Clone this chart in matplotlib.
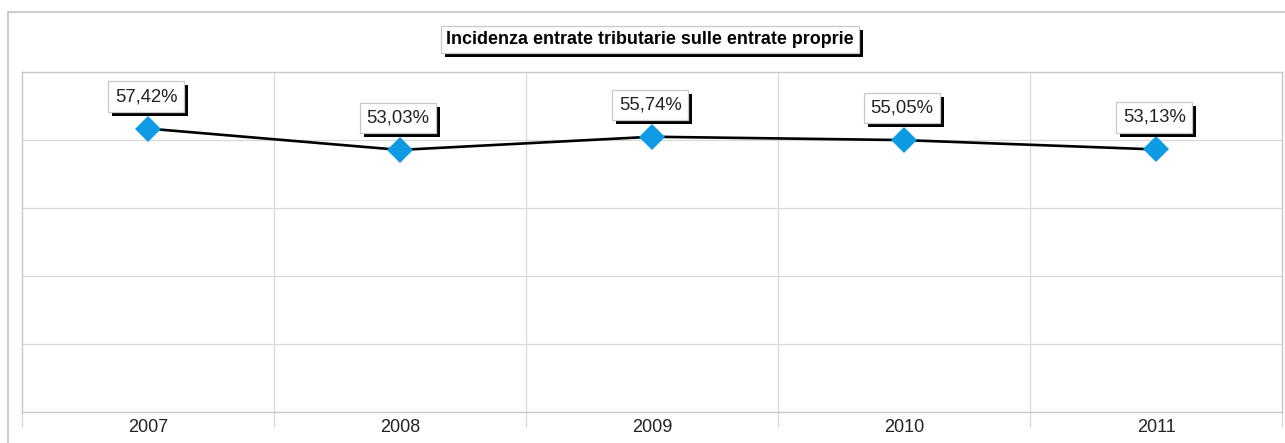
import matplotlib
matplotlib.use("Agg")
import matplotlib.pyplot as plt
import matplotlib.patheffects as pe
from matplotlib.patches import Rectangle
import numpy as np

plt.rcParams['font.family'] = ['Liberation Sans', 'DejaVu Sans']

title = "Incidenza entrate tributarie sulle entrate proprie"
years = ["2007", "2008", "2009", "2010", "2011"]
values = [57.42, 53.03, 55.74, 55.05, 53.13]
labels = ["57,42%", "53,03%", "55,74%", "55,05%", "53,13%"]

W, H = 1285, 443
fig = plt.figure(figsize=(W / 100, H / 100), dpi=100)
fig.patch.set_facecolor("white")

# outer chart frame
fig.patches.append(Rectangle((8 / W, -0.2), 1.2, 1.2 - 12 / H,
                             transform=fig.transFigure, fill=False,
                             edgecolor="#c4c4c4", linewidth=1.2, zorder=0))

ax = fig.add_axes([22 / W, 1 - 412 / H, 1260 / W, 340 / H])
x = np.arange(len(years))
ymin, ymax = -0.85, 69.05
ax.set_xlim(-0.5, len(years) - 0.5)
ax.set_ylim(ymin, ymax)

grid_c = "#d8d8d8"
for yv in np.linspace(ymin, ymax, 6)[1:-1]:
    ax.axhline(yv, color=grid_c, lw=0.9, zorder=1)
for xv in np.arange(0.5, len(years) - 0.5, 1):
    ax.axvline(xv, color=grid_c, lw=0.9, zorder=1)

for s in ax.spines.values():
    s.set_color("#c8c8c8")
    s.set_linewidth(1.0)

ax.set_yticks([])
ax.set_xticks(x)
ax.set_xticklabels(years, fontsize=13, color="#222222")
ax.tick_params(axis="x", which="major", length=0, pad=5)
ax.set_xticks(np.arange(-0.5, len(years), 1), minor=True)
ax.tick_params(axis="x", which="minor", length=10.5, width=0.9,
               color=grid_c, direction="out")

ax.plot(x, values, color="black", lw=1.9, zorder=3,
        marker="D", markersize=12.8, markerfacecolor="#0f9be3",
        markeredgecolor="#0f9be3", markeredgewidth=0)

for xi, v, lab in zip(x, values, labels):
    t = ax.annotate(lab, (xi, v), xytext=(-1.3, 23), textcoords="offset points",
                    ha="center", va="center", fontsize=13.3, color="#222222",
                    bbox=dict(boxstyle="square,pad=0.36", fc="white",
                              ec="#c8c8c8", lw=0.9), zorder=5)
    t.get_bbox_patch().set_path_effects([
        pe.SimplePatchShadow(offset=(2.6, -2.8), shadow_rgbFace="black", alpha=1.0),
        pe.Normal()])

tt = fig.text(650 / W, 1 - 39.5 / H, title, ha="center", va="center",
              fontsize=12.9, fontweight="bold", color="black",
              bbox=dict(boxstyle="square,pad=0.3", fc="white",
                        ec="#c8c8c8", lw=0.9))
tt.get_bbox_patch().set_path_effects([
    pe.SimplePatchShadow(offset=(2.8, -2.8), shadow_rgbFace="black", alpha=1.0),
    pe.Normal()])

fig.savefig("out.png", dpi=100, facecolor="white")
